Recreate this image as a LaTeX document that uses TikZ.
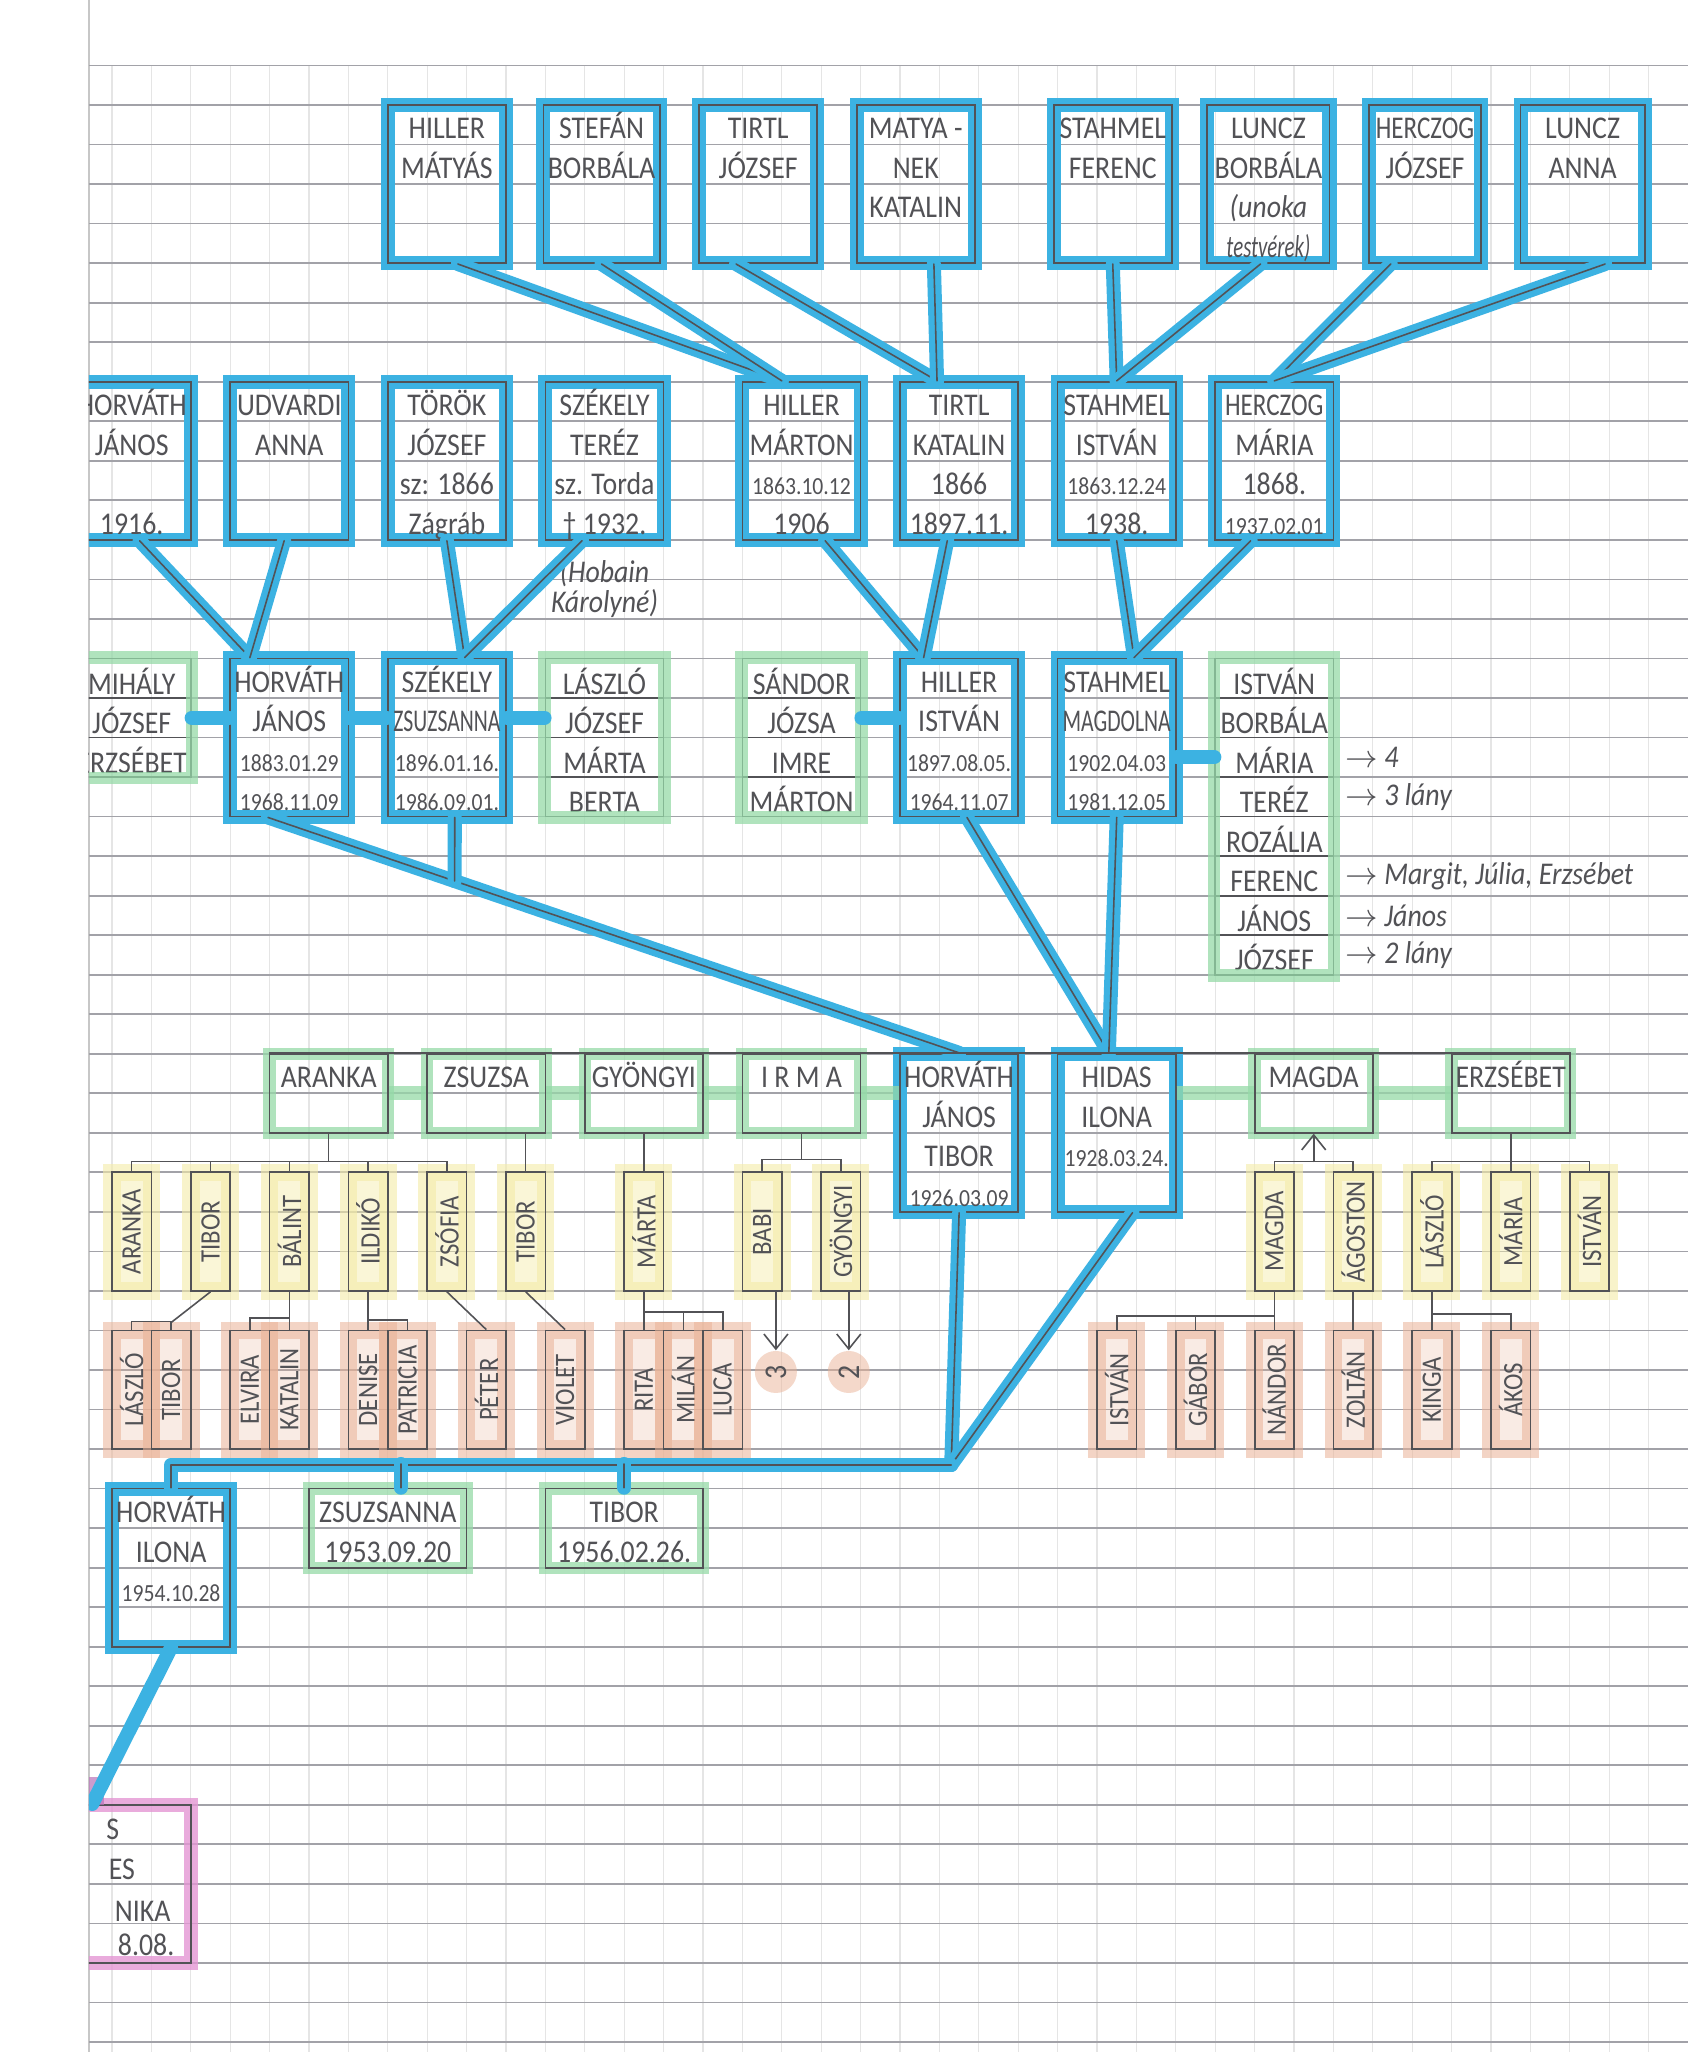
\documentclass[tikz,border=0pt]{standalone}
\usepackage{fontspec}
\setmainfont{Carlito}[FakeStretch=0.88]
\usepackage{graphicx}
\usetikzlibrary{arrows.meta,positioning,calc,fit}

\definecolor{pencil}{RGB}{82,82,86}
\definecolor{ruling}{RGB}{162,162,168}
\definecolor{marker}{RGB}{60,178,226}
\definecolor{greenmark}{RGB}{150,218,168}
\definecolor{yellowmark}{RGB}{244,236,168}
\definecolor{peachmark}{RGB}{234,178,150}
\definecolor{pinkmark}{RGB}{228,150,212}

\newcommand{\sq}[2][0.8]{\scalebox{#1}[1]{#2}}
\newcommand{\dt}[1]{{\fontsize{7}{8}\selectfont #1}}

% a box on the squared paper; its text lines sit on the rules
\newcommand{\famcard}[6][]{%
  \node[card,#1,fit={(#3,#4) (#5,#6)}] (#2) {};}
\newcommand{\cardlines}[2]{%
  \foreach \slot [count=\i] in {#2}
    \node[cardtext] (#1l\i) at ($(#1.north)+(0,\i-0.12)$) {\slot};}
\newcommand{\vcard}[5][]{%
  \node[card,#1,fit={(#3,#4) ({#3+1},{#4+3})}] (#2) {};
  \node[vtext] (#2t) at (#2.center) {#5};}
\newcommand{\siblist}[4]{%
  \foreach \who [count=\i] in {#4} {
    \node[card,fit={(#2,{#3+\i-1}) ({#2+3},{#3+\i})}] (#1\i) {};
    \node[cardtext] (#1t\i) at ($(#1\i.south)+(0,-0.12)$) {\who};
  }}

\begin{document}
\begin{tikzpicture}[x=0.394cm, y=-0.3953cm,
    card/.style={rectangle, draw=pencil, line width=0.5pt, inner sep=0pt},
    bluecard/.style={preaction={draw=marker, line width=4pt}},
    greencard/.style={preaction={draw=greenmark, line width=3.5pt, draw opacity=0.75}},
    yellowcard/.style={fill=yellowmark, fill opacity=0.45,
                       preaction={draw=yellowmark, line width=5pt, draw opacity=0.6}},
    peachcard/.style={fill=peachmark, fill opacity=0.25,
                      preaction={draw=peachmark, line width=5pt, draw opacity=0.55}},
    pinkcard/.style={preaction={draw=pinkmark, line width=4pt, draw opacity=0.8}},
    cardtext/.style={anchor=base, inner sep=0pt, text=pencil,
                     font=\fontsize{9}{10}\selectfont},
    vtext/.style={rotate=90, inner sep=0pt, text=pencil,
                  font=\fontsize{8}{9}\selectfont},
    note/.style={inner sep=1pt, text=pencil, font=\itshape\fontsize{9}{8.6}\selectfont},
    countblob/.style={circle, minimum size=0.42cm, inner sep=0pt, fill=peachmark,
                      fill opacity=0.5, text opacity=1, text=pencil,
                      font=\fontsize{9}{10}\selectfont},
    lineage/.style={draw=marker, line width=4pt, line cap=round, line join=round,
                    postaction={draw=pencil, line width=0.45pt}},
    bluebar/.style={draw=marker, line width=4pt, line cap=round},
    greenbar/.style={draw=greenmark, line width=4pt, draw opacity=0.75},
    tie/.style={draw=pencil, line width=0.45pt},
    arr/.style={-{Straight Barb[length=1.5mm, width=2.4mm]}}
  ]
  \fill[white] (-2.8426,-1.657) rectangle (40,50.253);
  \useasboundingbox (-2.8426,-1.657) rectangle (40,50.253);
  \draw[black!22, line width=0.4pt] (-0.584,-1.657) -- (-0.584,50.253);
  \begin{scope}
  \clip (-0.584,-1.657) rectangle (40,50.253);
  % squared paper
  \foreach \j in {0,...,39} \draw[black!10, line width=0.3pt] (\j,0) -- (\j,50.253);
  \foreach \k in {0,...,50} \draw[ruling, line width=0.5pt] (-0.584,\k) -- (40,\k);

  % great-grandparents
  \famcard[bluecard]{mhiller}{7}{1}{10}{5}
  \famcard[bluecard]{bstefan}{10.95}{1}{13.9}{5}
  \famcard[bluecard]{jtirtl}{14.9}{1}{17.9}{5}
  \famcard[bluecard]{kmatyanek}{18.9}{1}{21.9}{5}
  \famcard[bluecard]{fstahmel}{23.9}{1}{26.9}{5}
  \famcard[bluecard]{bluncz}{27.8}{1}{30.9}{5}
  \famcard[bluecard]{jherczog}{31.9}{1}{34.75}{5}
  \famcard[bluecard]{alunczz}{35.75}{1}{38.9}{5}
  \cardlines{mhiller}{HILLER,MÁTYÁS}
  \cardlines{bstefan}{STEFÁN,BORBÁLA}
  \cardlines{jtirtl}{TIRTL,JÓZSEF}
  \cardlines{kmatyanek}{MATYA -,NEK,KATALIN}
  \cardlines{fstahmel}{STAHMEL,FERENC}
  \cardlines{bluncz}{LUNCZ,BORBÁLA,{\itshape (unoka},{\itshape\sq[0.75]{testvérek)}}}
  \cardlines{jherczog}{\sq[0.9]{HERCZOG},JÓZSEF}
  \cardlines{alunczz}{LUNCZ,ANNA}

  % grandparents
  \famcard[bluecard]{jhorvathsr}{-1}{8}{2}{12}
  \famcard[bluecard]{audvardi}{3}{8}{6}{12}
  \famcard[bluecard]{jtorok}{7}{8}{10}{12}
  \famcard[bluecard]{tszekely}{11}{8}{14}{12}
  \famcard[bluecard]{mhiller2}{16}{8}{19}{12}
  \famcard[bluecard]{ktirtl}{20}{8}{23}{12}
  \famcard[bluecard]{istahmel}{24}{8}{27}{12}
  \famcard[bluecard]{mherczog}{28}{8}{31}{12}
  \cardlines{jhorvathsr}{HORVÁTH,JÁNOS,{},1916.}
  \cardlines{audvardi}{UDVARDI,ANNA}
  \cardlines{jtorok}{TÖRÖK,JÓZSEF,sz: 1866,Zágráb}
  \cardlines{tszekely}{SZÉKELY,TERÉZ,sz. Torda,† 1932.}
  \cardlines{mhiller2}{HILLER,MÁRTON,\dt{1863.10.12},1906}
  \cardlines{ktirtl}{TIRTL,KATALIN,1866,1897.11.}
  \cardlines{istahmel}{STAHMEL,ISTVÁN,\dt{1863.12.24},1938.}
  \cardlines{mherczog}{\sq[0.9]{HERCZOG},MÁRIA,1868.,\dt{1937.02.01}}
  \node[note, align=center, below=4pt of tszekely] (hobain) {(Hobain\\Károlyné)};

  % parents and their brothers and sisters
  \siblist{ml}{-1}{15}{MIHÁLY,JÓZSEF,ERZSÉBET}
  \famcard[bluecard]{jhorvath}{3}{15}{6}{19}
  \famcard[bluecard]{zszekely}{7}{15}{10}{19}
  \siblist{ll}{11}{15}{LÁSZLÓ,JÓZSEF,MÁRTA,BERTA}
  \siblist{sl}{16}{15}{SÁNDOR,JÓZSA,IMRE,MÁRTON}
  \famcard[bluecard]{ihiller}{20}{15}{23}{19}
  \famcard[bluecard]{mstahmel}{24}{15}{27}{19}
  \siblist{il}{28}{15}{ISTVÁN,BORBÁLA,MÁRIA,TERÉZ,ROZÁLIA,FERENC,JÁNOS,JÓZSEF}
  \cardlines{jhorvath}{HORVÁTH,JÁNOS,\dt{1883.01.29},\dt{1968.11.09}}
  \cardlines{zszekely}{SZÉKELY,\sq[0.78]{ZSUZSANNA},\dt{1896.01.16.},\dt{1986.09.01.}}
  \cardlines{ihiller}{HILLER,ISTVÁN,\dt{1897.08.05.},\dt{1964.11.07}}
  \cardlines{mstahmel}{STAHMEL,\sq[0.78]{MAGDOLNA},\dt{1902.04.03},\dt{1981.12.05}}
  \node[greencard, card, draw=none, fit=(ml1)(ml3)] (mlframe) {};
  \node[greencard, card, draw=none, fit=(ll1)(ll4)] (llframe) {};
  \node[greencard, card, draw=none, fit=(sl1)(sl4)] (slframe) {};
  \node[greencard, card, draw=none, fit=(il1)(il8)] (ilframe) {};
  \node[note, right=2pt of il3] (nmaria) {$\rightarrow$ 4};
  \node[note, right=2pt of il4] (nterez) {$\rightarrow$ 3 lány};
  \node[note, right=2pt of il6] (nferenc) {$\rightarrow$ Margit, Júlia, Erzsébet};
  \node[note, right=2pt of il7] (njanos) {$\rightarrow$ János};
  \node[note, right=2pt of il8] (njozsef) {$\rightarrow$ 2 lány};

  % generation of Tibor and Ilona
  \famcard[greencard]{aranka}{4}{25}{7}{27}
  \famcard[greencard]{zsuzsa}{8}{25}{11}{27}
  \famcard[greencard]{gyongyi}{12}{25}{15}{27}
  \famcard[greencard]{irma}{16}{25}{19}{27}
  \famcard[bluecard]{jthorvath}{20}{25}{23}{29}
  \famcard[bluecard]{ihidas}{24}{25}{27}{29}
  \famcard[greencard]{magda}{29}{25}{32}{27}
  \famcard[greencard]{erzsebet}{34}{25}{37}{27}
  \cardlines{aranka}{ARANKA}
  \cardlines{zsuzsa}{ZSUZSA}
  \cardlines{gyongyi}{GYÖNGYI}
  \cardlines{irma}{I R M A}
  \cardlines{jthorvath}{HORVÁTH,JÁNOS,TIBOR,\dt{1926.03.09}}
  \cardlines{ihidas}{HIDAS,ILONA,\dt{1928.03.24.}}
  \cardlines{magda}{MAGDA}
  \cardlines{erzsebet}{ERZSÉBET}

  % cousins
  \vcard[yellowcard]{caranka}{0}{28}{ARANKA}
  \vcard[yellowcard]{ctibor}{2}{28}{TIBOR}
  \vcard[yellowcard]{balint}{4}{28}{BÁLINT}
  \vcard[yellowcard]{ildiko}{6}{28}{ILDIKÓ}
  \vcard[yellowcard]{zsofia}{8}{28}{ZSÓFIA}
  \vcard[yellowcard]{ctibor2}{10}{28}{TIBOR}
  \vcard[yellowcard]{marta}{13}{28}{MÁRTA}
  \vcard[yellowcard]{babi}{16}{28}{BABI}
  \vcard[yellowcard]{cgyongyi}{18}{28}{GYÖNGYI}
  \vcard[yellowcard]{cmagda}{29}{28}{MAGDA}
  \vcard[yellowcard]{agoston}{31}{28}{ÁGOSTON}
  \vcard[yellowcard]{claszlo}{33}{28}{LÁSZLÓ}
  \vcard[yellowcard]{cmaria}{35}{28}{MÁRIA}
  \vcard[yellowcard]{cistvan}{37}{28}{ISTVÁN}

  % their children
  \vcard[peachcard]{glaszlo}{0}{32}{LÁSZLÓ}
  \vcard[peachcard]{gtibor}{1}{32}{TIBOR}
  \vcard[peachcard]{elvira}{3}{32}{ELVIRA}
  \vcard[peachcard]{katalin}{4}{32}{KATALIN}
  \vcard[peachcard]{denise}{6}{32}{DENISE}
  \vcard[peachcard]{patricia}{7}{32}{PATRICIA}
  \vcard[peachcard]{peter}{9}{32}{PÉTER}
  \vcard[peachcard]{violet}{11}{32}{VIOLET}
  \vcard[peachcard]{rita}{13}{32}{RITA}
  \vcard[peachcard]{milan}{14}{32}{MILÁN}
  \vcard[peachcard]{luca}{15}{32}{LUCA}
  \vcard[peachcard]{gistvan}{25}{32}{ISTVÁN}
  \vcard[peachcard]{gabor}{27}{32}{GÁBOR}
  \vcard[peachcard]{nandor}{29}{32}{NÁNDOR}
  \vcard[peachcard]{zoltan}{31}{32}{ZOLTÁN}
  \vcard[peachcard]{kinga}{33}{32}{KINGA}
  \vcard[peachcard]{akos}{35}{32}{ÁKOS}
  \node[countblob] (ncount3) at (16.85,33.05) {\rotatebox{90}{3}};
  \node[countblob] (ncount2) at (18.7,33.05) {\rotatebox{90}{2}};

  % children of Tibor and Ilona
  \famcard[bluecard]{ihorvath}{0}{36}{3}{40}
  \famcard[greencard]{zsuzsanna}{5}{36}{9}{38}
  \famcard[greencard]{tiborg}{11}{36}{15}{38}
  \cardlines{ihorvath}{HORVÁTH,ILONA,\dt{1954.10.28}}
  \cardlines{zsuzsanna}{ZSUZSANNA,1953.09.20}
  \cardlines{tiborg}{TIBOR,1956.02.26.}
  \famcard[pinkcard]{nextgen}{-1}{44}{2}{48}
  \node[cardtext, anchor=base east] (nextgen1) at (0.2,44.88) {S};
  \node[cardtext, anchor=base east] (nextgen2) at (0.6,45.88) {ES};
  \node[cardtext, anchor=base east] (nextgen3) at (1.5,46.95) {NIKA};
  \node[cardtext, anchor=base east] (nextgen4) at (1.6,47.8) {8.08.};
  \fill[violet!55, opacity=0.7] (-0.584,43.3) rectangle (-0.2,44);

  % blue lineage
  \draw[lineage] ($(mhiller.south)+(0.28,0)$) -- ($(mhiller2.north)+(-0.5,0)$);
  \draw[lineage] (bstefan.south) -- ($(mhiller2.north)+(-0.5,0)$);
  \draw[lineage] ($(jtirtl.south)+(-0.56,0)$) -- ($(ktirtl.north)+(-0.56,0)$);
  \draw[lineage] ($(kmatyanek.south)+(0.46,0)$) -- ($(ktirtl.north)+(-0.56,0)$);
  \draw[lineage] (fstahmel.south) -- (istahmel.north);
  \draw[lineage] ($(bluncz.south)+(-0.2,0)$) -- (istahmel.north);
  \draw[lineage] ($(jherczog.south)+(-0.87,0)$) -- (mherczog.north);
  \draw[lineage] ($(alunczz.south)+(0.57,0)$) -- (mherczog.north);

  \draw[lineage] ($(jhorvathsr.south)+(0.2,0)$) -- ($(jhorvath.north)+(-1,0)$);
  \draw[lineage] ($(audvardi.south)+(-0.13,0)$) -- ($(jhorvath.north)+(-1,0)$);
  \draw[lineage] (jtorok.south) -- ($(zszekely.north)+(0.45,0)$);
  \draw[lineage] ($(tszekely.south)+(-0.57,0)$) -- ($(zszekely.north)+(0.45,0)$);
  \draw[lineage] ($(mhiller2.south)+(0.6,0)$) -- ($(ihiller.north)+(-0.9,0)$);
  \draw[lineage] ($(ktirtl.south)+(-0.3,0)$) -- ($(ihiller.north)+(-0.9,0)$);
  \draw[lineage] (istahmel.south) -- ($(mstahmel.north)+(0.44,0)$);
  \draw[lineage] ($(mherczog.south)+(-0.6,0)$) -- ($(mstahmel.north)+(0.44,0)$);

  \draw[lineage] ($(jhorvath.south)+(-0.54,0)$) -- coordinate[pos=0.27] (zjoin) (jthorvath.north);
  \draw[lineage] ($(zszekely.south)+(0.2,0)$) -- (zjoin);
  \draw[lineage] ($(ihiller.south)+(0.2,0)$) -- ($(ihidas.north)+(-0.2,0)$);
  \draw[lineage] (mstahmel.south) -- ($(ihidas.north)+(-0.2,0)$);

  \coordinate (cjoin) at (21.3,35.4);
  \draw[lineage] (jthorvath.south) -- (cjoin);
  \draw[lineage] ($(ihidas.south)+(0.4,0)$) -- (cjoin);
  \draw[lineage] (cjoin) -- (ihorvath.north |- cjoin) -- (ihorvath.north);
  \draw[lineage] ($(zsuzsanna.north)+(0.33,0)$) -- ++(0,-0.6);
  \draw[lineage] (tiborg.north) -- ++(0,-0.6);
  \draw[bluebar] (ihorvath.south) -- ($(nextgen.north west)+(0.52,0)$);

  % marker between brothers and sisters
  \draw[bluebar] (ml2.east) -- (jhorvath.west |- ml2.east);
  \draw[bluebar] (jhorvath.east |- ml2.east) -- (zszekely.west |- ml2.east);
  \draw[bluebar] (zszekely.east |- ll2.west) -- (ll2.west);
  \draw[bluebar] (sl2.east) -- (ihiller.west |- sl2.east);
  \draw[bluebar] (mstahmel.east |- il3.west) -- (il3.west);
  \draw[greenbar] (aranka.east) -- (zsuzsa.west);
  \draw[greenbar] (zsuzsa.east) -- (gyongyi.west);
  \draw[greenbar] (gyongyi.east) -- (irma.west);
  \draw[greenbar] (irma.east) -- (jthorvath.west |- irma.east);
  \draw[greenbar] (ihidas.east |- magda.west) -- (magda.west);
  \draw[greenbar] (magda.east) -- (erzsebet.west);
  \draw[tie] (aranka.north west) -- (erzsebet.north east);

  % pencil ties to the cousins
  \draw[tie] (aranka.south) -- (aranka.south |- 0,27.75);
  \draw[tie] (caranka.north) -- ++(0,-0.25) -| (zsofia.north);
  \foreach \c in {ctibor,balint,ildiko} \draw[tie] (\c.north) -- ++(0,-0.25);
  \draw[tie] (ctibor2.north |- zsuzsa.south) -- (ctibor2.north);
  \draw[tie] (gyongyi.south) -- (marta.north);
  \draw[tie] (irma.south) -- (irma.south |- 0,27.7);
  \draw[tie] (babi.north) -- ++(0,-0.3) -| (cgyongyi.north);
  \draw[tie] (cmagda.north) -- ++(0,-0.25) -| (agoston.north);
  \draw[tie, arr] (magda.south |- 0,27.75) -- (magda.south);
  \draw[tie] (erzsebet.south) -- (cmaria.north);
  \draw[tie] (claszlo.north) -- ++(0,-0.25) -| (cistvan.north);

  % pencil ties to their children
  \draw[tie] (ctibor.south) -- (gtibor.north |- 0,31.8);
  \draw[tie] (glaszlo.north) -- ++(0,-0.2) -| (gtibor.north);
  \draw[tie] (balint.south) -- (katalin.north |- 0,31.7);
  \draw[tie] (elvira.north) -- ++(0,-0.3) -| (katalin.north);
  \draw[tie] (ildiko.south) -- (denise.north |- 0,31.75);
  \draw[tie] (denise.north) -- ++(0,-0.25) -| (patricia.north);
  \draw[tie] (zsofia.south) -- (peter.north);
  \draw[tie] (ctibor2.south) -- (violet.north);
  \draw[tie] (marta.south) -- (rita.north);
  \draw[tie] (rita.north) -- ++(0,-0.45) -| (luca.north);
  \draw[tie] (milan.north) -- ++(0,-0.45);
  \draw[tie, arr] ($(babi.south)+(0.35,0)$) -- (ncount3.north);
  \draw[tie, arr] ($(cgyongyi.south)+(0.2,0)$) -- (ncount2.north);
  \draw[tie] (cmagda.south) -- (nandor.north);
  \draw[tie] (gistvan.north) -- ++(0,-0.35) -| (nandor.north);
  \draw[tie] (gabor.north) -- ++(0,-0.35);
  \draw[tie] (agoston.south) -- (zoltan.north);
  \draw[tie] (claszlo.south) -- (kinga.north);
  \draw[tie] (kinga.north) -- ++(0,-0.4) -| (akos.north);
  \end{scope}
\end{tikzpicture}
\end{document}
